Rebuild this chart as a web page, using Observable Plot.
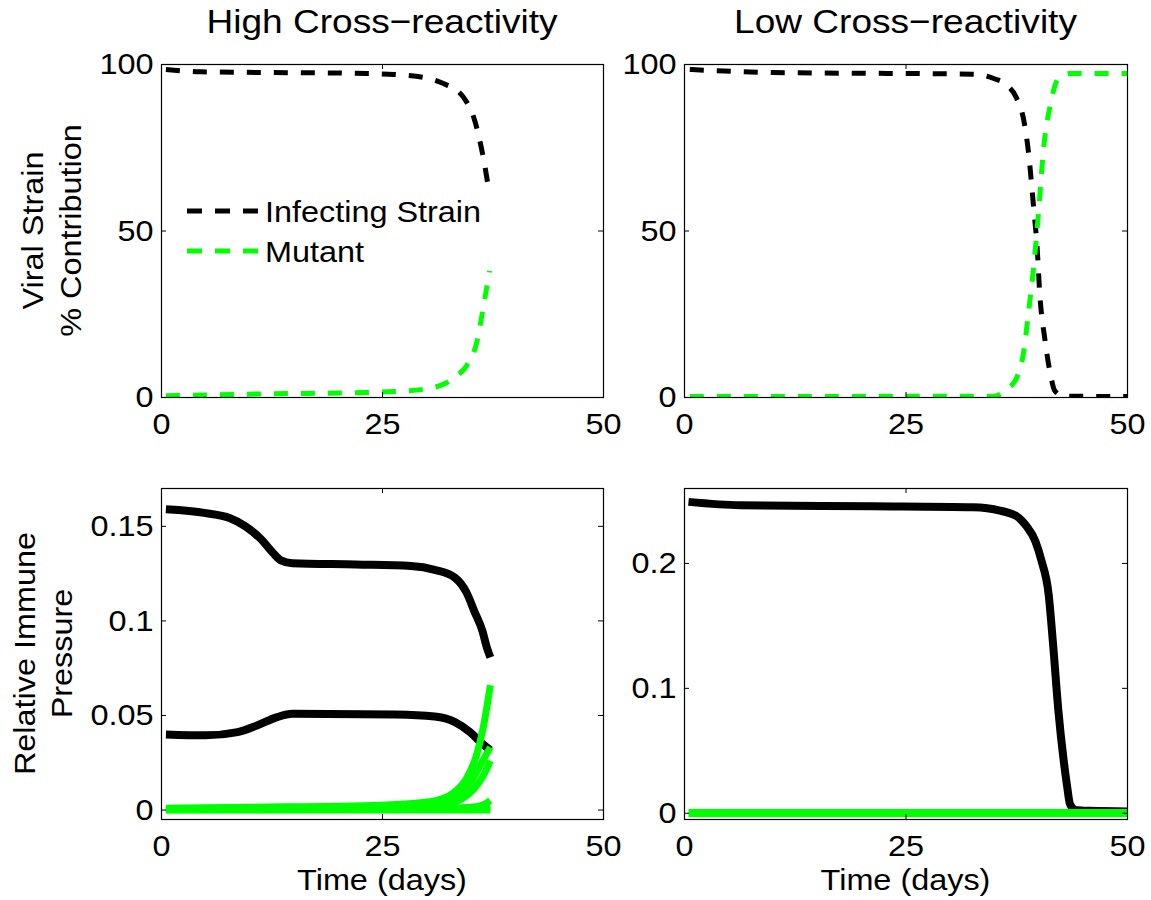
<!DOCTYPE html>
<html><head><meta charset="utf-8">
<script src="https://cdn.jsdelivr.net/npm/d3@7"></script>
<script src="https://cdn.jsdelivr.net/npm/@observablehq/plot@0.6"></script>
<style>
body{margin:0;background:#fff;}
#root{position:relative;width:1151px;height:900px;overflow:hidden;font-family:"Liberation Sans",Arial,Helvetica,sans-serif;}
#root > svg, #root > div{position:absolute;}
</style></head><body><div id="root"></div>
<script>
// ---------- Data ----------
const xTicks = [0, 25, 50];
const contributionTicks = [0, 50, 100];
const highPressureTicks = [0, 0.05, 0.1, 0.15];
const lowPressureTicks = [0, 0.1, 0.2];
const panelTitles = ["High Cross\u2212reactivity", "Low Cross\u2212reactivity"];
const legendLabels = ["Infecting Strain", "Mutant"];

// High cross-reactivity: % contribution
const highInfTime = [0.5, 4.4, 12, 23.2, 26.3, 29.7, 32.3, 33.4, 34.5, 35.3, 36, 36.6, 37.1];
const highInfPct  = [98.5, 97.8, 97.6, 97.3, 97, 96.1, 93.8, 92.3, 88.8, 84.3, 77.2, 69.2, 61];
const highMutTime = [0.5, 12, 23.2, 26.3, 29.7, 32.3, 33.4, 34.5, 35.7, 36.4, 37.1];
const highMutPct  = [0.5, 1.1, 1.5, 1.8, 2.5, 4.5, 6.5, 9.5, 17, 27, 38];

// Low cross-reactivity: % contribution
const lowInfTime = [0.6, 10, 32.6, 34.9, 36.4, 37.5, 38.3, 38.8, 39.4, 39.8, 40.1, 40.7, 41.3, 41.8, 42.8, 50];
const lowInfPct  = [98.5, 97.6, 97.1, 95.8, 93.8, 89.8, 83.2, 74.2, 57.2, 45, 31.1, 17, 7, 2, 0.4, 0.3];
const lowMutTime = [0.6, 34.9, 36.4, 37.5, 38.3, 38.8, 39.4, 40.0, 40.5, 41.3, 42.2, 43.5, 50];
const lowMutPct  = [0.3, 0.4, 2.5, 6, 14, 25, 39, 57, 74, 88, 95.8, 97.3, 97.3];

// High cross-reactivity: relative immune pressure (black = infecting-strain responses)
const highP1Time = [0.5, 5, 7.7, 9.5, 11.3, 12.6, 13.5, 14.8, 22, 28.2, 30.9, 33.2, 34.5, 35.4, 36.3, 36.8, 37.2];
const highP1 = [0.159, 0.157, 0.1544, 0.150, 0.143, 0.136, 0.132, 0.1305, 0.1298, 0.129, 0.127, 0.1228, 0.115, 0.105, 0.0947, 0.086, 0.0807];
const highP2Time = [0.5, 5, 8.6, 10.8, 13, 14.8, 26.5, 30.9, 33.2, 34.9, 36.3, 37.2];
const highP2 = [0.040, 0.0395, 0.0412, 0.0447, 0.049, 0.0509, 0.0505, 0.0495, 0.0465, 0.0412, 0.035, 0.0316];
// green = mutant responses
const highG1Time = [0.5, 10, 24.8, 30.4, 33.0, 34.6, 35.7, 36.4, 37.2];
const highG1 = [0.001, 0.0015, 0.0026, 0.0044, 0.009, 0.0175, 0.03, 0.0437, 0.066];
const highG2Time = [0.5, 20, 30, 33.4, 35, 36.1, 37.2];
const highG2 = [0.0008, 0.0012, 0.003, 0.008, 0.015, 0.024, 0.0333];
const highG3Time = [0.5, 20, 31, 34, 35.5, 36.5, 37.2];
const highG3 = [0.0006, 0.001, 0.002, 0.006, 0.012, 0.019, 0.026];
const highG4Time = [0.5, 30, 35, 36.5, 37.2];
const highG4 = [0.0004, 0.0006, 0.0015, 0.003, 0.005];
const highG5Time = [0.5, 30, 35, 37.2];
const highG5 = [0.0002, 0.0003, 0.0008, 0.0015];
const highG6Time = [0.5, 37.2];
const highG6 = [0, 0];

// Low cross-reactivity: relative immune pressure
const lowP1Time = [0.45, 6.3, 21.3, 32.6, 35.6, 37.5, 38.6, 39.6, 40.3, 41.1, 41.6, 42.2, 42.8, 43.2, 43.5, 44.1, 45.8, 50];
const lowP1 = [0.2493, 0.2466, 0.2458, 0.245, 0.2423, 0.2378, 0.2298, 0.2178, 0.2019, 0.1752, 0.1353, 0.082, 0.042, 0.0208, 0.0075, 0.0027, 0.002, 0.0015];
const lowG1Time = [0.45, 50];
const lowG1 = [0.0003, 0.0003];

// ---------- Drawing ----------
const BLACK = "#000000", GREEN = "#00ff00";
const FONT = "'Liberation Sans', Arial, Helvetica, sans-serif";
const zip = (t, v) => t.map((d, i) => ({t: d, v: v[i]}));
const root = document.getElementById("root");

function panel({left, top, width, height, mL, mR, mT, mB, yDomain, yTicks, lines}) {
  const xDomain = [0, 50];
  const iw = width - mL - mR, ih = height - mT - mB;
  const tl = 5;
  const dyT = (yDomain[1] - yDomain[0]) * tl / ih;
  const dxT = (xDomain[1] - xDomain[0]) * tl / iw;
  const fmt = d => String(d);
  const svg = Plot.plot({
    width, height,
    marginLeft: mL, marginRight: mR, marginTop: mT, marginBottom: mB,
    style: {fontFamily: FONT, fontSize: "30px", color: "#000", background: "transparent", overflow: "visible"},
    x: {domain: xDomain, ticks: xTicks, tickSize: 0, tickPadding: 15, tickFormat: fmt, label: null},
    y: {domain: yDomain, ticks: yTicks, tickSize: 0, tickPadding: 8, tickFormat: fmt, label: null},
    marks: [
      ...lines.map(l => Plot.line(l.data, {
        x: "t", y: "v", stroke: l.color, strokeWidth: l.width,
        strokeDasharray: l.dash || null, strokeLinecap: "butt", strokeLinejoin: "round",
        curve: "monotone-x", clip: true
      })),
      Plot.ruleX(xTicks, {x: d => d, y1: yDomain[0], y2: yDomain[0] + dyT, stroke: "#000", strokeWidth: 1}),
      Plot.ruleX(xTicks, {x: d => d, y1: yDomain[1] - dyT, y2: yDomain[1], stroke: "#000", strokeWidth: 1}),
      Plot.ruleY(yTicks, {y: d => d, x1: xDomain[0], x2: xDomain[0] + dxT, stroke: "#000", strokeWidth: 1}),
      Plot.ruleY(yTicks, {y: d => d, x1: xDomain[1] - dxT, x2: xDomain[1], stroke: "#000", strokeWidth: 1}),
      Plot.frame({stroke: "#000", strokeWidth: 1.2})
    ]
  });
  svg.style.left = left + "px";
  svg.style.top = top + "px";
  root.appendChild(svg);
}

const dash = "14,13";
// Top-left
panel({left: 0, top: 0, width: 625, height: 450, mL: 161, mR: 22, mT: 64, mB: 53,
  yDomain: [0, 100], yTicks: contributionTicks,
  lines: [
    {data: zip(highInfTime, highInfPct), color: BLACK, width: 5, dash},
    {data: zip(highMutTime, highMutPct), color: GREEN, width: 5, dash}
  ]});
// Top-right
panel({left: 590, top: 0, width: 561, height: 450, mL: 94, mR: 24, mT: 64, mB: 53,
  yDomain: [0, 100], yTicks: contributionTicks,
  lines: [
    {data: zip(lowInfTime, lowInfPct), color: BLACK, width: 5, dash},
    {data: zip(lowMutTime, lowMutPct), color: GREEN, width: 5, dash}
  ]});
// Bottom-left
panel({left: 0, top: 460, width: 625, height: 440, mL: 161, mR: 22, mT: 28, mB: 81,
  yDomain: [-0.005, 0.17], yTicks: highPressureTicks,
  lines: [
    {data: zip(highP1Time, highP1), color: BLACK, width: 8},
    {data: zip(highP2Time, highP2), color: BLACK, width: 8},
    {data: zip(highG6Time, highG6), color: GREEN, width: 7},
    {data: zip(highG5Time, highG5), color: GREEN, width: 7},
    {data: zip(highG4Time, highG4), color: GREEN, width: 7},
    {data: zip(highG3Time, highG3), color: GREEN, width: 7},
    {data: zip(highG2Time, highG2), color: GREEN, width: 7},
    {data: zip(highG1Time, highG1), color: GREEN, width: 7}
  ]});
// Bottom-right
panel({left: 590, top: 460, width: 561, height: 440, mL: 94, mR: 24, mT: 28, mB: 81,
  yDomain: [-0.005, 0.26], yTicks: lowPressureTicks,
  lines: [
    {data: zip(lowP1Time, lowP1), color: BLACK, width: 8},
    {data: zip(lowG1Time, lowG1), color: GREEN, width: 8}
  ]});

// ---------- Text overlay: titles, axis labels, legend ----------
const NS = "http://www.w3.org/2000/svg";
const ov = document.createElementNS(NS, "svg");
ov.setAttribute("width", 1151); ov.setAttribute("height", 900);
ov.style.left = "0px"; ov.style.top = "0px"; ov.style.pointerEvents = "none";
ov.setAttribute("font-family", FONT); ov.setAttribute("font-size", 30);
function txt(s, x, y, anchor, rot, size, cls) {
  const t = document.createElementNS(NS, "text");
  t.textContent = s;
  t.setAttribute("text-anchor", anchor || "middle");
  t.setAttribute("fill", "#000");
  if (size) t.setAttribute("font-size", size);
  if (cls) t.setAttribute("class", cls);
  if (rot) t.setAttribute("transform", `translate(${x},${y}) rotate(${rot})`);
  else { t.setAttribute("x", x); t.setAttribute("y", y); }
  ov.appendChild(t);
  return t;
}
txt(panelTitles[0], 382, 33, "middle", 0, 34, "title");
txt(panelTitles[1], 905.5, 33, "middle", 0, 34, "title");
txt("Viral Strain", 43, 230.5, "middle", -90);
txt("% Contribution", 81, 230.5, "middle", -90);
txt("Relative Immune", 35, 653.5, "middle", -90);
txt("Pressure", 72, 653.5, "middle", -90);
txt("Time (days)", 382, 890);
txt("Time (days)", 905.5, 890);
// legend
[[BLACK, 211, legendLabels[0]], [GREEN, 251, legendLabels[1]]].forEach(([c, y, s]) => {
  const l = document.createElementNS(NS, "line");
  l.setAttribute("x1", 187); l.setAttribute("x2", 258);
  l.setAttribute("y1", y); l.setAttribute("y2", y);
  l.setAttribute("stroke", c); l.setAttribute("stroke-width", 5);
  l.setAttribute("stroke-dasharray", "15,13");
  ov.appendChild(l);
  txt(s, 265, y + 10.5, "start");
});
root.appendChild(ov);

// Reference glyphs are slightly wider than Liberation Sans: stretch text horizontally.
function stretch() {
  root.querySelectorAll("text").forEach(t => {
    if (t.querySelector("tspan")) return;
    const len = t.getComputedTextLength();
    if (!len) return;
    const f = t.getAttribute("class") === "title" ? 1.09 : 1.08;
    t.setAttribute("textLength", (len * f).toFixed(1));
    t.setAttribute("lengthAdjust", "spacingAndGlyphs");
  });
}
stretch();
</script>
</body></html>
